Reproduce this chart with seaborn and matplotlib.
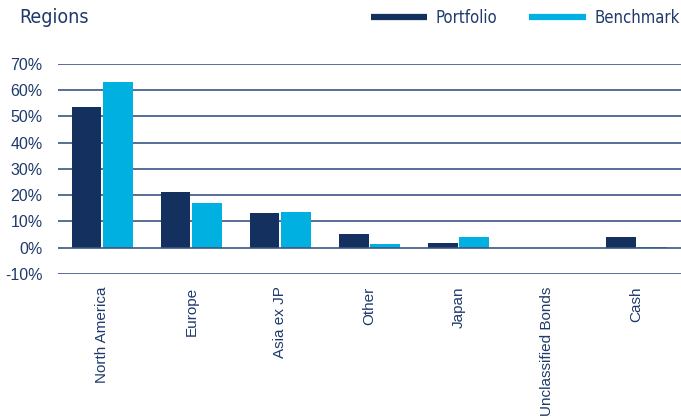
import matplotlib
matplotlib.use("Agg")
import matplotlib.pyplot as plt
from matplotlib.lines import Line2D
import seaborn as sns
import pandas as pd

categories = ["North America", "Europe", "Asia ex JP", "Other", "Japan",
              "Unclassified Bonds", "Cash"]
portfolio = [53.6, 21.2, 13.3, 5.2, 1.7, 0.0, 4.0]
benchmark = [63.2, 16.9, 13.6, 1.4, 4.1, 0.0, 0.1]
series_names = ["Portfolio", "Benchmark"]
yticks = [-10, 0, 10, 20, 30, 40, 50, 60, 70]

NAVY = "#13305f"
CYAN = "#00b0e0"
TEXT = "#1f3a6b"
GRID = "#3b5583"

sns.set_theme(style="white")
plt.rcParams["font.family"] = ["Liberation Sans", "DejaVu Sans"]

df = pd.DataFrame({
    "Region": categories * 2,
    "Value": portfolio + benchmark,
    "Series": [series_names[0]] * len(categories) + [series_names[1]] * len(categories),
})

fig = plt.figure(figsize=(6.81, 4.18), dpi=100)
ax = fig.add_axes([0.085, 0.3445, 0.915, 0.5025])

sns.barplot(data=df, x="Region", y="Value", hue="Series", order=categories,
            hue_order=series_names, palette=[NAVY, CYAN], saturation=1,
            width=0.7, gap=0.06, linewidth=0, ax=ax, legend=False, zorder=3)

ax.set_ylim(-10, 70)
ax.set_xlim(-0.5, len(categories) - 0.5)
ax.set_yticks(yticks)
ax.set_yticklabels([f"{v}%" for v in yticks])
for y in yticks:
    ax.axhline(y, color=GRID, linewidth=1.2, zorder=1 if y != 0 else 4)
for s in ax.spines.values():
    s.set_visible(False)
ax.set_xlabel("")
ax.set_ylabel("")
ax.tick_params(axis="y", length=0, pad=11, labelsize=11.5, labelcolor=TEXT)
ax.tick_params(axis="x", length=0, pad=9, labelsize=11, labelcolor=TEXT)
plt.setp(ax.get_xticklabels(), rotation=90, va="top", ha="center")

cond = {"family": "DejaVu Sans", "stretch": "condensed"}
fig.text(0.028, 0.957, "Regions", fontsize=14, color=TEXT, va="center", **cond)

handles = [Line2D([0], [0], color=NAVY, lw=4.5, solid_capstyle="butt"),
           Line2D([0], [0], color=CYAN, lw=4.5, solid_capstyle="butt")]
leg = fig.legend(handles, series_names, loc="center right",
                 bbox_to_anchor=(1.02, 0.957), ncol=2, frameon=False,
                 handlelength=3.4, handletextpad=0.5, columnspacing=1.9,
                 prop={"family": "DejaVu Sans", "stretch": "condensed", "size": 12})
for t in leg.get_texts():
    t.set_color(TEXT)

fig.savefig("out.png", dpi=100)
